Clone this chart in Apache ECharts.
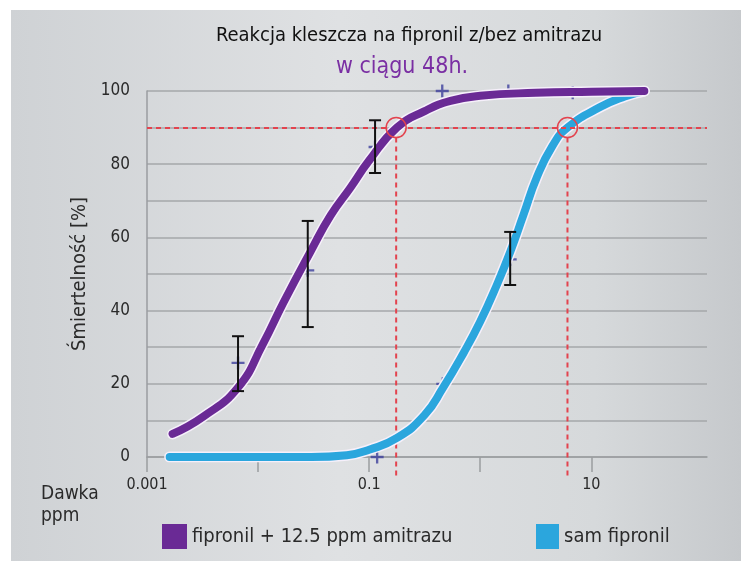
<!DOCTYPE html>
<html>
<head>
<meta charset="utf-8">
<script src="https://cdn.jsdelivr.net/npm/echarts@6/dist/echarts.min.js"></script>
<style>
  html, body { margin: 0; padding: 0; background: #fff; }
  #chart { width: 741px; height: 561px; }
</style>
</head>
<body>
<div id="chart"></div>
<script>
// dawka (ppm) / smiertelnosc (%)
var mixCurveX = [0.0017, 0.0032, 0.0066, 0.0111, 0.0168, 0.0295, 0.045, 0.0675, 0.1, 0.178, 0.316, 0.54, 1, 3.16, 10, 30];
var mixCurveY = [6.3, 11, 19, 31, 42, 56, 66, 73.5, 81, 90, 94.5, 97.3, 98.7, 99.5, 99.8, 100];
var soloCurveX = [0.0016, 0.03, 0.063, 0.1, 0.178, 0.316, 0.46, 0.71, 1, 1.41, 1.86, 2.44, 3.24, 4.47, 6.1, 12, 20, 30];
var soloCurveY = [0, 0, 0.5, 2, 5.2, 11.5, 18.8, 28.5, 37, 47, 56, 66, 76.5, 85, 90, 95.6, 98.5, 100];

var mixPlusX = [0.0066, 0.028, 0.113, 0.455, 1.79, 6.8];
var mixPlusY = [25.7, 51, 84.7, 100, 100, 99.5];
var soloPlusX = [0.118, 0.46, 1.86];
var soloPlusY = [0, 20, 54];

var errX = [0.0066, 0.028, 0.113, 1.86];
var errLow = [18, 35.5, 77.6, 47];
var errHigh = [33, 64.5, 92, 61.5];

var lethalX = [0.175, 6.1];   // LD90
var lethalLevel = 90;

var xTicks = [0.001, 0.01, 0.1, 1, 10];
var xTickLabels = [0.001, 0.1, 10];
var seriesNames = ['fipronil + 12.5 ppm amitrazu', 'sam fipronil'];

var FONT = "'DejaVu Sans Condensed', 'Liberation Sans Narrow', Roboto, sans-serif";
var PURPLE = '#6a2a95', BLUE = '#2ba6dd', NAVY = '#3c3f9c', RED = '#e3434e';
var PLUS = 'path://M4.1,0H5.9V4.1H10V5.9H5.9V10H4.1V5.9H0V4.1H4.1Z';

function zip(a, b) { return a.map(function (v, i) { return [v, b[i]]; }); }

var myChart = echarts.init(document.getElementById('chart'));
var option = {
    backgroundColor: '#fff',
    animation: false,
    textStyle: { fontFamily: FONT },
    graphic: [
        {
            type: 'rect', left: 11, top: 10, z: -10,
            shape: { width: 730, height: 551 },
            style: {
                fill: new echarts.graphic.LinearGradient(0, 0, 1, 0, [
                    { offset: 0, color: '#cfd2d5' },
                    { offset: 0.45, color: '#dfe1e3' },
                    { offset: 0.8, color: '#d6d9db' },
                    { offset: 1, color: '#c6c9cc' }
                ])
            }
        },
        {
            type: 'text', left: 41, top: 483,
            style: { text: 'Dawka\nppm', fill: '#2a2a2a', font: '19px ' + FONT, lineHeight: 22 }
        }
    ],
    title: [
        {
            text: 'Reakcja kleszcza na fipronil z/bez amitrazu',
            left: 404, top: 21, textAlign: 'center',
            textStyle: { fontSize: 20, fontWeight: 'normal', color: '#111', fontFamily: FONT }
        },
        {
            text: 'w ciągu 48h.',
            left: 397, top: 51, textAlign: 'center',
            textStyle: { fontSize: 23, fontWeight: 'normal', color: '#7a2fa3', fontFamily: FONT }
        }
    ],
    legend: [
        {
            data: [seriesNames[0]], left: 157, top: 519, icon: 'rect',
            itemWidth: 25, itemHeight: 25, itemGap: 8,
            textStyle: { fontSize: 20, color: '#2a2a2a', fontFamily: FONT }
        },
        {
            data: [seriesNames[1]], left: 531, top: 519, icon: 'rect',
            itemWidth: 23, itemHeight: 25,
            textStyle: { fontSize: 20, color: '#2a2a2a', fontFamily: FONT }
        }
    ],
    grid: { left: 147, right: 34, top: 91, bottom: 104 },
    xAxis: {
        type: 'log', logBase: 10, min: 0.001, max: 110,
        axisLine: { lineStyle: { color: '#9a9da0', width: 1.5 } },
        axisTick: { show: true, length: 15, customValues: xTicks, lineStyle: { color: '#9a9da0', width: 1.5 } },
        splitLine: { show: false },
        axisLabel: {
            margin: 20, fontSize: 16, color: '#2a2a2a', fontFamily: FONT,
            customValues: xTickLabels,
            formatter: function (v) { return String(+(+v).toPrecision(3)); }
        }
    },
    yAxis: {
        type: 'value', min: 0, max: 100, interval: 10,
        name: 'Śmiertelność [%]', nameLocation: 'middle', nameGap: 50, nameRotate: 90,
        nameTextStyle: { fontSize: 20, color: '#2a2a2a', fontFamily: FONT },
        axisLine: { show: true, lineStyle: { color: '#9a9da0', width: 1.5 } },
        axisTick: { show: false },
        splitLine: { lineStyle: { color: '#a4a7aa', width: 1.5 } },
        axisLabel: {
            margin: 17, fontSize: 17, color: '#2a2a2a', fontFamily: FONT,
            formatter: function (v) { return v % 20 === 0 ? v : ''; }
        }
    },
    series: [
        // linie odniesienia LD90
        {
            type: 'custom', z: 1, silent: true,
            data: lethalX.map(function (x) { return [x, lethalLevel]; }),
            renderItem: function (params, api) {
                var top = api.coord([api.value(0), api.value(1)]);
                var bottom = api.coord([api.value(0), 0]);
                return {
                    type: 'line',
                    shape: { x1: top[0], y1: top[1] + 10, x2: bottom[0], y2: bottom[1] + 22 },
                    style: { stroke: RED, lineWidth: 2, lineDash: [5, 4] }
                };
            },
            markLine: {
                silent: true, symbol: 'none', label: { show: false },
                lineStyle: { color: RED, width: 2, type: [5, 4] },
                data: [{ yAxis: lethalLevel }]
            }
        },
        {
            type: 'scatter', z: 2, symbol: PLUS, symbolSize: 13,
            itemStyle: { color: NAVY },
            data: zip(mixPlusX, mixPlusY)
        },
        {
            type: 'scatter', z: 2, symbol: PLUS, symbolSize: 13,
            itemStyle: { color: NAVY },
            data: zip(soloPlusX, soloPlusY)
        },
        // obwodka
        {
            type: 'line', z: 3, silent: true, showSymbol: false, smooth: 0.5,
            lineStyle: { color: '#f6f0fb', width: 11, cap: 'round' },
            data: zip(soloCurveX, soloCurveY)
        },
        {
            name: seriesNames[1],
            type: 'line', z: 4, showSymbol: false, smooth: 0.5,
            color: BLUE,
            lineStyle: { color: BLUE, width: 8, cap: 'round' },
            data: zip(soloCurveX, soloCurveY)
        },
        {
            type: 'line', z: 5, silent: true, showSymbol: false, smooth: 0.5,
            lineStyle: { color: '#f6f0fb', width: 11, cap: 'round' },
            data: zip(mixCurveX, mixCurveY)
        },
        {
            name: seriesNames[0],
            type: 'line', z: 6, showSymbol: false, smooth: 0.5,
            color: PURPLE,
            lineStyle: { color: PURPLE, width: 8, cap: 'round' },
            data: zip(mixCurveX, mixCurveY)
        },
        // okregi LD90
        {
            type: 'custom', z: 8, silent: true,
            data: lethalX.map(function (x) { return [x, lethalLevel]; }),
            renderItem: function (params, api) {
                var c = api.coord([api.value(0), api.value(1)]);
                return {
                    type: 'circle',
                    shape: { cx: c[0], cy: c[1], r: 10 },
                    style: { fill: 'none', stroke: RED, lineWidth: 1.5 }
                };
            }
        },
        // slupki bledow
        {
            type: 'custom', z: 7, silent: true,
            data: errX.map(function (x, i) { return [x, errLow[i], errHigh[i]]; }),
            renderItem: function (params, api) {
                var lo = api.coord([api.value(0), api.value(1)]);
                var hi = api.coord([api.value(0), api.value(2)]);
                var s = { stroke: '#111', lineWidth: 2 };
                return {
                    type: 'group',
                    children: [
                        { type: 'line', shape: { x1: lo[0], y1: lo[1], x2: hi[0], y2: hi[1] }, style: s },
                        { type: 'line', shape: { x1: lo[0] - 6, y1: lo[1], x2: lo[0] + 6, y2: lo[1] }, style: s },
                        { type: 'line', shape: { x1: hi[0] - 6, y1: hi[1], x2: hi[0] + 6, y2: hi[1] }, style: s }
                    ]
                };
            }
        }
    ]
};
myChart.setOption(option);
</script>
</body>
</html>
